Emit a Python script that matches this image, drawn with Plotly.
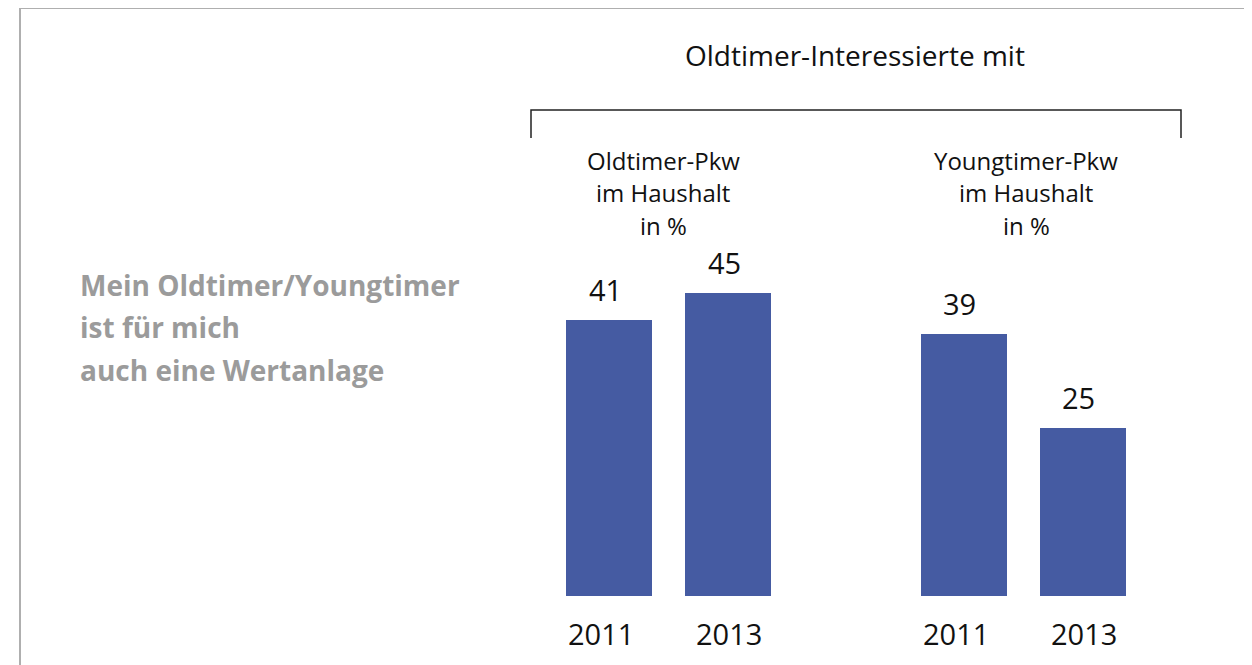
import plotly.graph_objects as go

# data
groups = [["Oldtimer-Pkw", "im Haushalt", "in %"], ["Youngtimer-Pkw", "im Haushalt", "in %"]]
years = ["2011", "2013"]
oldtimer_vals = [41, 45]
youngtimer_vals = [39, 25]
header = "Oldtimer-Interessierte mit"
statement = ["Mein Oldtimer/Youngtimer", "ist für mich", "auch eine Wertanlage"]

# the page body has an 8px margin, so the figure starts at (8, 8) on screen
OFF = 8
W, H = 1252 - OFF, 665 - OFF
FONT = "Open Sans"
BAR_COLOR = "#455BA2"
GRAY = "#9B9B9B"
GROUP_STEP = 2.98
GROUP_HEAD_X = [663, 1026]   # screen px centres of the group headings
YEAR_SHIFT = [-8, 1]         # small horizontal nudges of the year labels

# screen px -> paper
def px(x):
    return (x - OFF) / W

def py(y):
    return 1 - (y - OFF) / H

xs, ys, labels, shifts = [], [], [], []
for g, vals in enumerate([oldtimer_vals, youngtimer_vals]):
    for i, v in enumerate(vals):
        xs.append(g * GROUP_STEP + i)
        ys.append(v)
        labels.append(years[i])
        shifts.append(YEAR_SHIFT[i])

fig = go.Figure()
fig.add_trace(go.Bar(x=xs, y=ys, width=0.723, marker=dict(color=BAR_COLOR, line=dict(width=0)),
                     hoverinfo="skip"))

annotations = []
# value labels above bars
for x, v in zip(xs, ys):
    annotations.append(dict(x=x, y=v, xref="x", yref="y", text=str(v), showarrow=False,
                            xanchor="center", yanchor="bottom", yshift=9, xshift=-4,
                            font=dict(size=29, color="#111111", family=FONT)))
# year labels below bars
for x, lab, s in zip(xs, labels, shifts):
    annotations.append(dict(x=x, y=py(633), xref="x", yref="paper", text=lab, showarrow=False,
                            xanchor="center", yanchor="middle", xshift=s,
                            font=dict(size=29, color="#111111", family=FONT)))
# group headings, one line each
for g, lines in enumerate(groups):
    for k, txt in enumerate(lines):
        annotations.append(dict(x=px(GROUP_HEAD_X[g]), y=py(160 + 32.5 * k), xref="paper", yref="paper",
                                text=txt, showarrow=False, xanchor="center", yanchor="middle",
                                font=dict(size=24, color="#111111", family=FONT)))
annotations.append(dict(x=px(855), y=py(55), xref="paper", yref="paper", text=header, showarrow=False,
                        xanchor="center", yanchor="middle",
                        font=dict(size=28, color="#111111", family=FONT)))
for k, txt in enumerate(statement):
    annotations.append(dict(x=px(78), y=py(285 + 42.5 * k), xref="paper", yref="paper",
                            text="<b>" + txt + "</b>", showarrow=False, xanchor="left", yanchor="middle",
                            font=dict(size=28, color=GRAY, family=FONT)))

shapes = [
    # frame (top + left)
    dict(type="line", xref="paper", yref="paper", x0=px(20), x1=1, y0=py(8), y1=py(8),
         line=dict(color="#AFAFAF", width=2)),
    dict(type="line", xref="paper", yref="paper", x0=px(20), x1=px(20), y0=py(8), y1=0,
         line=dict(color="#AFAFAF", width=2)),
    # bracket
    dict(type="path", xref="paper", yref="paper",
         path=f"M {px(531)} {py(138)} L {px(531)} {py(110)} L {px(1181)} {py(110)} L {px(1181)} {py(138)}",
         line=dict(color="#222222", width=1.5)),
]

unit = 119.0
x0_px = 609 - OFF
px_per_val = 6.73
base_px = 596 - OFF

fig.update_layout(
    width=W, height=H,
    margin=dict(l=0, r=0, t=0, b=0),
    paper_bgcolor="white", plot_bgcolor="white",
    showlegend=False,
    bargap=0,
    xaxis=dict(range=[-x0_px / unit, (W - x0_px) / unit], visible=False, fixedrange=True),
    yaxis=dict(range=[-(H - base_px) / px_per_val, base_px / px_per_val], visible=False, fixedrange=True),
    annotations=annotations,
    shapes=shapes,
)

fig.write_html("out.html")
